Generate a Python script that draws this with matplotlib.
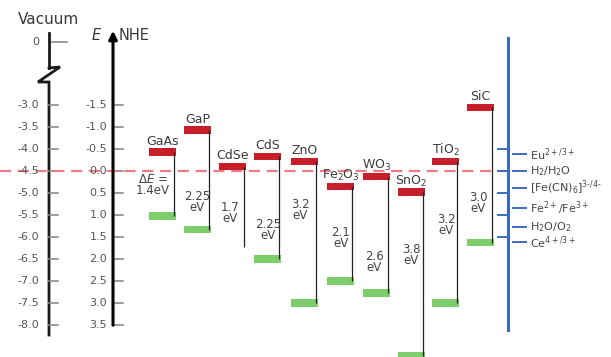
import matplotlib
matplotlib.use('Agg')
import matplotlib.pyplot as plt

plt.rcParams['font.family'] = ['DejaVu Sans']
plt.rcParams['mathtext.fontset'] = 'dejavusans'

# band edges of the semiconductors, V vs NHE
materials = ['GaAs', 'GaP', 'CdSe', 'CdS', 'ZnO', 'Fe$_2$O$_3$', 'WO$_3$', 'SnO$_2$', 'TiO$_2$', 'SiC']
cb_edge = [-0.43, -0.93, -0.10, -0.33, -0.22, 0.35, 0.13, 0.48, -0.22, -1.45]
vb_edge = [1.02, 1.33, 1.73, 2.00, 3.00, 2.50, 2.77, 4.20, 3.00, 1.63]
show_vb = [True, True, False, True, True, True, True, True, True, True]
gap_labels = ['$\\Delta E$ =\n1.4eV', '2.25\neV', '1.7\neV', '2.25\neV', '3.2\neV',
              '2.1\neV', '2.6\neV', '3.8\neV', '3.2\neV', '3.0\neV']

# scales
vacuum_ticks = [-3.0, -3.5, -4.0, -4.5, -5.0, -5.5, -6.0, -6.5, -7.0, -7.5, -8.0]
nhe_ticks = [-1.5, -1.0, -0.5, 0.0, 0.5, 1.0, 1.5, 2.0, 2.5, 3.0, 3.5]

# redox couples
redox_labels = ['Eu$^{2+/3+}$', 'H$_2$/H$_2$O', '[Fe(CN)$_6$]$^{3\u2010/4\u2010}$',
                'Fe$^{2+}$/Fe$^{3+}$', 'H$_2$O/O$_2$', 'Ce$^{4+/3+}$']
redox_pot = [-0.38, 0.0, 0.38, 0.85, 1.27, 1.62]
blue_ticks = [-0.5, 0.0, 0.5, 1.0, 1.5]

# layout (x in pixels, y converted from pixel rows)
def row(px):
    return (px - 171) / 44.0

bar_x = [149, 184, 219, 254, 291, 327, 363, 398, 432, 467]
bar_w = 27
gap_dx = [4, 13, 11, 14, 9, 14, 11, 13, 14, 11]
gap_row = [185, 202, 213, 230, 210, 238, 262, 255, 225, 203]

red = '#c81e2a'
green = '#7dcd6c'
blue = '#3c6cc0'
txt = '#3a3a3a'
grey = '#8a8a8a'

fig = plt.figure(figsize=(6.11, 3.57), dpi=100)
ax = fig.add_axes([0, 0, 1, 1])
ax.set_xlim(0, 611)
ax.set_ylim(row(357), row(0))
ax.axis('off')

# vacuum scale with axis break
ax.plot([49, 49], [row(33), row(68)], color='#1a1a1a', lw=2)
ax.plot([49, 60, 38, 49, 49], [row(68), row(67), row(82), row(82), row(335)],
        color='#1a1a1a', lw=2, solid_joinstyle='miter')
ax.plot([52, 67], [row(42), row(42)], color=grey, lw=1.2)
ax.text(39, row(42), '0', ha='right', va='center', fontsize=8, color='#555555')
ax.text(48, row(20), 'Vacuum', ha='center', va='center', fontsize=11, color=txt)
for v in vacuum_ticks:
    e = -4.5 - v
    ax.plot([49, 58], [e, e], color=grey, lw=1.2)
    ax.text(39, e, '%.1f' % v, ha='right', va='center', fontsize=8, color='#555555')

# NHE scale
ax.annotate('', xy=(113, row(28)), xytext=(113, row(328)),
            arrowprops=dict(arrowstyle='-|>', lw=2.2, color='black', mutation_scale=12))
ax.text(97, row(35), '$E$', ha='center', va='center', fontsize=10.5, color=txt)
ax.text(119, row(35), 'NHE', ha='left', va='center', fontsize=10.5, color=txt)
for e in nhe_ticks:
    ax.plot([113, 123], [e, e], color=grey, lw=1.2)
    ax.text(107, e, '%.1f' % e, ha='right', va='center', fontsize=8, color='#555555')

# reference level of H+/H2
ax.plot([0, 506], [0, 0], color='#f07a86', lw=1.6, ls=(0, (5, 3)))

# semiconductors
h = 0.165
for i, name in enumerate(materials):
    x0 = bar_x[i]
    ax.bar(x0, h, bottom=cb_edge[i] - h / 2, width=bar_w, align='edge', color=red, zorder=3)
    if show_vb[i]:
        ax.bar(x0, h, bottom=vb_edge[i] - h / 2, width=bar_w, align='edge', color=green, zorder=3)
    ax.vlines(x0 + 25, cb_edge[i], vb_edge[i], color='#222222', lw=0.9, zorder=4)
    ax.text(x0 + bar_w / 2, cb_edge[i] - 0.17, name, ha='center', va='baseline',
            fontsize=9, color=txt, zorder=5)
    ax.text(x0 + gap_dx[i], row(gap_row[i]), gap_labels[i], ha='center', va='center',
            fontsize=8.5, color='#444444', linespacing=0.85, zorder=5)

# redox scale
ax.plot([508, 508], [row(38), row(330)], color=blue, lw=2.2)
for e in blue_ticks:
    ax.plot([498, 508], [e, e], color=blue, lw=1.4)
for lab, e in zip(redox_labels, redox_pot):
    ax.plot([513, 526], [e, e], color=blue, lw=1.4)
    ax.text(530, e, lab, ha='left', va='center', fontsize=8, color='#444444')

fig.savefig('out.png', dpi=100)
